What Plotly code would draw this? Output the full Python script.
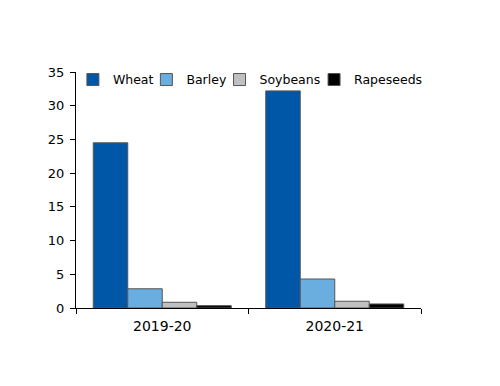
import plotly.graph_objects as go

categories = ["2019-20", "2020-21"]
wheat = [24.5, 32.2]
barley = [2.85, 4.3]
soybeans = [0.85, 1.0]
rapeseeds = [0.35, 0.6]

series = [("Wheat", wheat, "#0057A8"), ("Barley", barley, "#6AAEE0"),
          ("Soybeans", soybeans, "#C0C0C0"), ("Rapeseeds", rapeseeds, "#000000")]
legend_ids = ["legend", "legend2", "legend3", "legend4"]
legend_x = [-0.009, 0.204, 0.416, 0.690]

fig = go.Figure()
for (name, vals, col), lid in zip(series, legend_ids):
    fig.add_trace(go.Bar(x=categories, y=vals, name=name, marker_color=col,
                         marker_line=dict(color="#555555", width=1), legend=lid))

font = "DejaVu Sans"
leg_common = dict(orientation="h", y=1.03, xanchor="left", yanchor="top",
                  bgcolor="rgba(0,0,0,0)", font=dict(size=12.5), itemwidth=30)
fig.update_layout(
    width=500, height=386, barmode="group", bargap=0.2, bargroupgap=0,
    margin=dict(l=68, r=87, t=64, b=86),
    plot_bgcolor="white", paper_bgcolor="white",
    font=dict(family=font, size=13, color="black"),
    showlegend=True,
)
for lid, lx in zip(legend_ids, legend_x):
    fig.update_layout({lid: dict(x=lx, **leg_common)})

fig.update_yaxes(range=[0, 35], dtick=5, showline=True, linecolor="black", linewidth=1,
                 ticks="outside", ticklen=5, tickcolor="black", showgrid=False,
                 zeroline=False, tickfont=dict(size=13), ticklabelstandoff=3)
fig.update_xaxes(showline=True, linecolor="black", linewidth=1, ticks="outside",
                 tickson="boundaries", ticklen=5, tickcolor="black", showgrid=False,
                 tickfont=dict(size=14), ticklabelstandoff=5)
fig.write_html("out.html")
